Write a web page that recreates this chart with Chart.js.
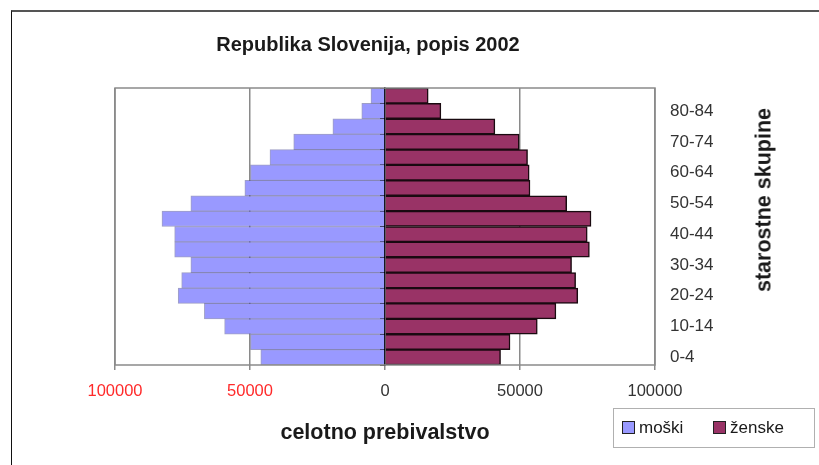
<!DOCTYPE html>
<html>
<head>
<meta charset="utf-8">
<script src="https://cdn.jsdelivr.net/npm/chart.js@4.4.1/dist/chart.umd.min.js"></script>
<style>
  html, body { margin: 0; padding: 0; background: #fff; }
  #wrap { position: relative; width: 819px; height: 465px; overflow: hidden; font-family: "Liberation Sans", Arial, sans-serif; color: #1a1a1a; }
  #frame { position: absolute; left: 11px; top: 10px; right: -10px; bottom: -10px; border-top: 2px solid #555; border-left: 1.5px solid #111; }
  canvas { position: absolute; left: 0; top: 0; }
  .t { position: absolute; font-weight: bold; white-space: nowrap; transform: translate(-50%, -50%); }
  #title { left: 368px; top: 44px; font-size: 20px; }
  #xtitle { left: 385px; top: 432px; font-size: 21.5px; }
  #ytitle { left: 764px; top: 200px; font-size: 21.5px; transform: translate(-50%, -50%) rotate(-90deg); }
  #legend { position: absolute; left: 613px; top: 408px; width: 200px; height: 38px; border: 1.5px solid #b0b0b0; font-size: 17px; }
  .item { position: absolute; top: 10px; line-height: 17px; }
  .sw { display: inline-block; width: 11px; height: 11px; border: 1.5px solid #222; vertical-align: -1px; margin-right: 4px; }
</style>
</head>
<body>
<div id="wrap">
  <div id="frame"></div>
  <canvas id="c" width="819" height="465"></canvas>
  <div class="t" id="title">Republika Slovenija, popis 2002</div>
  <div class="t" id="xtitle">celotno prebivalstvo</div>
  <div class="t" id="ytitle">starostne skupine</div>
  <div id="legend">
    <div class="item" style="left:8px"><span class="sw" style="background:#9999ff"></span>moški</div>
    <div class="item" style="left:99px"><span class="sw" style="background:#993366"></span>ženske</div>
  </div>
</div>
<script>
const AGE_GROUPS = ['0-4','5-9','10-14','15-19','20-24','25-29','30-34','35-39','40-44',
                    '45-49','50-54','55-59','60-64','65-69','70-74','75-79','80-84','85+'];
const MALE   = [46000, 49800, 59400, 66900, 76600, 75300, 71900, 77900, 77900,
                82600, 71900, 51900, 49800, 42600, 33800, 19300, 8600, 5200];
const FEMALE = [42800, 46300, 56400, 63300, 71400, 70600, 69100, 75700, 74900,
                76300, 67300, 53700, 53400, 52800, 49700, 40700, 20700, 16000];
const X_TICKS = [-100000, -50000, 0, 50000, 100000];

const FONT = '"Liberation Sans", Arial, sans-serif';

// grey frame round the plot area
const plotFrame = {
  id: 'plotFrame',
  afterDraw(chart) {
    const { ctx, chartArea: a } = chart;
    ctx.save();
    ctx.strokeStyle = '#8a8a8a';
    ctx.lineWidth = 1.5;
    ctx.strokeRect(a.left, a.top, a.right - a.left, a.bottom - a.top);
    ctx.restore();
  },
};

new Chart(document.getElementById('c'), {
  type: 'bar',
  data: {
    labels: AGE_GROUPS,
    datasets: [
      {
        label: 'moški',
        data: MALE.map(v => -v),
        backgroundColor: '#9999ff',
        borderColor: 'rgba(80,80,150,0.55)',
        borderWidth: 1,
      },
      {
        label: 'ženske',
        data: FEMALE,
        backgroundColor: '#993366',
        borderColor: '#1a0a10',
        borderWidth: 1.5,
      },
    ],
  },
  options: {
    indexAxis: 'y',
    responsive: false,
    animation: false,
    devicePixelRatio: 1,
    barPercentage: 1,
    categoryPercentage: 1,
    layout: { padding: { left: 115, top: 88, right: 0, bottom: 0 } },
    plugins: { legend: { display: false }, title: { display: false }, tooltip: { enabled: false } },
    scales: {
      x: {
        stacked: true,
        min: -100000,
        max: 100000,
        afterBuildTicks: s => { s.ticks = X_TICKS.map(v => ({ value: v })); },
        afterFit: s => { s.height = 100; },
        border: { display: false },
        grid: { color: '#8a8a8a', lineWidth: 1.5, tickLength: 5, drawTicks: true },
        ticks: {
          padding: 12,
          font: { family: FONT, size: 16.5 },
          color: c => (c.tick && c.tick.value < 0 ? '#ff2a2a' : '#333'),
          callback: v => String(Math.abs(v)),
        },
      },
      y: {
        stacked: true,
        reverse: true,
        position: 'right',
        afterFit: s => { s.width = 164; },
        border: { display: false },
        grid: { display: false, drawTicks: false },
        ticks: {
          autoSkip: false,
          padding: 15,
          font: { family: FONT, size: 17 },
          color: '#333',
          callback: (v, i) => (i % 2 === 0 ? AGE_GROUPS[i] : ''),
        },
      },
      y2: {
        type: 'category',
        reverse: true,
        position: { x: 0 },
        z: 1,
        border: { display: true, color: '#000', width: 1.5 },
        grid: { drawOnChartArea: false, drawTicks: true, tickLength: 4, offset: true, color: '#333', lineWidth: 1 },
        ticks: { display: false },
      },
    },
  },
  plugins: [plotFrame],
});
</script>
</body>
</html>
